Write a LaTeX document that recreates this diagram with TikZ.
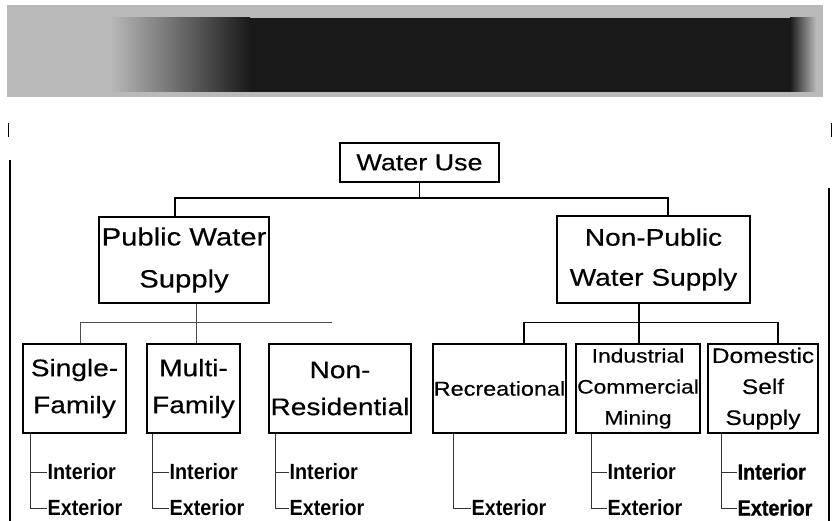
\documentclass[tikz,border=0pt]{standalone}
\usepackage{fontspec}
\setmainfont[FakeStretch=1.17,FakeBold=0.4]{Liberation Sans}
\newfontfamily\labelfont[FakeStretch=0.9]{Liberation Sans}
\newfontfamily\heavyfont[FakeStretch=0.9,FakeBold=1]{Liberation Sans}
\usetikzlibrary{calc,positioning}

\begin{document}
\begin{tikzpicture}[x=1pt,y=-1pt,
    box/.style={rectangle,draw,line width=1.2pt,inner sep=0pt,align=center,font=\fontsize{24}{37}\selectfont},
    trunk/.style={line width=1.8pt},
    link/.style={line width=1.1pt},
    thinlink/.style={line width=0.7pt,black!70},
    tree/.style={line width=0.8pt,black!80},
    item/.style={inner sep=0pt,anchor=west,text height=15pt,text depth=0pt,font=\labelfont\bfseries\fontsize{22}{26}\selectfont},
    heavy/.style={font=\heavyfont\bfseries\fontsize{22}{26}\selectfont}
]
\useasboundingbox (0,0) rectangle (832,521);

% === Banner ===
\fill[gray!55] (7,5) rectangle (823,97);
\shade[left color=gray!55,right color=black!90] (110,18) rectangle (250,92);
\fill[black!90] (250,18) rectangle (790,92);
\shade[left color=black!90,right color=gray!55] (790,18) rectangle (816,92);

% === Page edges ===
\draw[line width=0.8pt] (8,123) -- (8,137);
\draw[line width=0.8pt] (831,123) -- (831,137);
\draw[line width=2pt] (10,160) -- (10,521);
\draw[line width=2pt] (829,188) -- (829,521);

% === Level 1 ===
\node[box,minimum width=159,minimum height=39,font=\fontsize{23}{28}\selectfont] (wateruse) at (419.5,162.5) {Water Use};

% === Level 2 ===
\node[box,minimum width=170,minimum height=86,font=\fontsize{25}{42}\selectfont] (pws) at (184,260) {Public Water\\Supply};
\node[box,minimum width=193,minimum height=87,font=\fontsize{24}{40}\selectfont] (npws) at (653.5,259.5) {Non-Public\\Water Supply};

\draw[trunk] (wateruse.south) -- (wateruse.south |- 0,198) coordinate (bus1);
\draw[trunk] ([xshift=-9pt]pws.north) |- (bus1) -| ([xshift=14.5pt]npws.north);

% === Level 3 (public) ===
\node[box,minimum width=103,minimum height=89] (sf) at (74.5,388.5) {Single-\\Family};
\node[box,minimum width=93,minimum height=89] (mf) at (193.5,388.5) {Multi-\\Family};
\node[box,minimum width=142,minimum height=89] (nr) at (340,388.5) {Non-\\Residential};

\draw[thinlink] ([xshift=12pt]pws.south) -- ++(0,19) coordinate (bus2);
\draw[thinlink] ([xshift=5.5pt]sf.north) |- (bus2) -- (bus2 -| 332,0);
\draw[thinlink] (bus2) -- ([xshift=2.5pt]mf.north);

% === Level 3 (non-public) ===
\node[box,minimum width=133,minimum height=89,font=\fontsize{20}{31}\selectfont] (rec) at (499.5,388.5) {Recreational};
\node[box,minimum width=124,minimum height=89,font=\fontsize{19.5}{31}\selectfont] (icm) at (638,388.5) {Industrial\\Commercial\\Mining};
\node[box,minimum width=110,minimum height=89,font=\fontsize{21}{31}\selectfont] (dss) at (763,388.5) {Domestic\\Self\\Supply};

\draw[link] ([xshift=-14.5pt]npws.south) -- ++(0,19) coordinate (bus3);
\draw[link] ([xshift=24.5pt]rec.north) |- (bus3) -| ([xshift=15pt]dss.north);
\draw[link] (bus3) -- ([xshift=1pt]icm.north);

% === Interior / Exterior ===
\foreach \b/\dx/\gap/\look in {sf/8/17/item,mf/6/17/item,nr/7/14/item,icm/16/16/item,dss/14/16/heavy} {
    \coordinate (\b top) at ([xshift=\dx pt]\b.south west);
    \node[item,\look] (\b int) at ([xshift=\gap pt]\b top |- 0,472) {Interior};
    \node[item,\look] (\b ext) at ([xshift=\gap pt]\b top |- 0,508) {Exterior};
    \draw[tree] (\b top) |- (\b ext.west);
    \draw[tree] (\b top |- \b int.west) -- (\b int.west);
}
\coordinate (rec top) at ([xshift=21pt]rec.south west);
\node[item] (rec ext) at ([xshift=18pt]rec top |- 0,508) {Exterior};
\draw[tree] (rec top) |- (rec ext.west);

\end{tikzpicture}
\end{document}
